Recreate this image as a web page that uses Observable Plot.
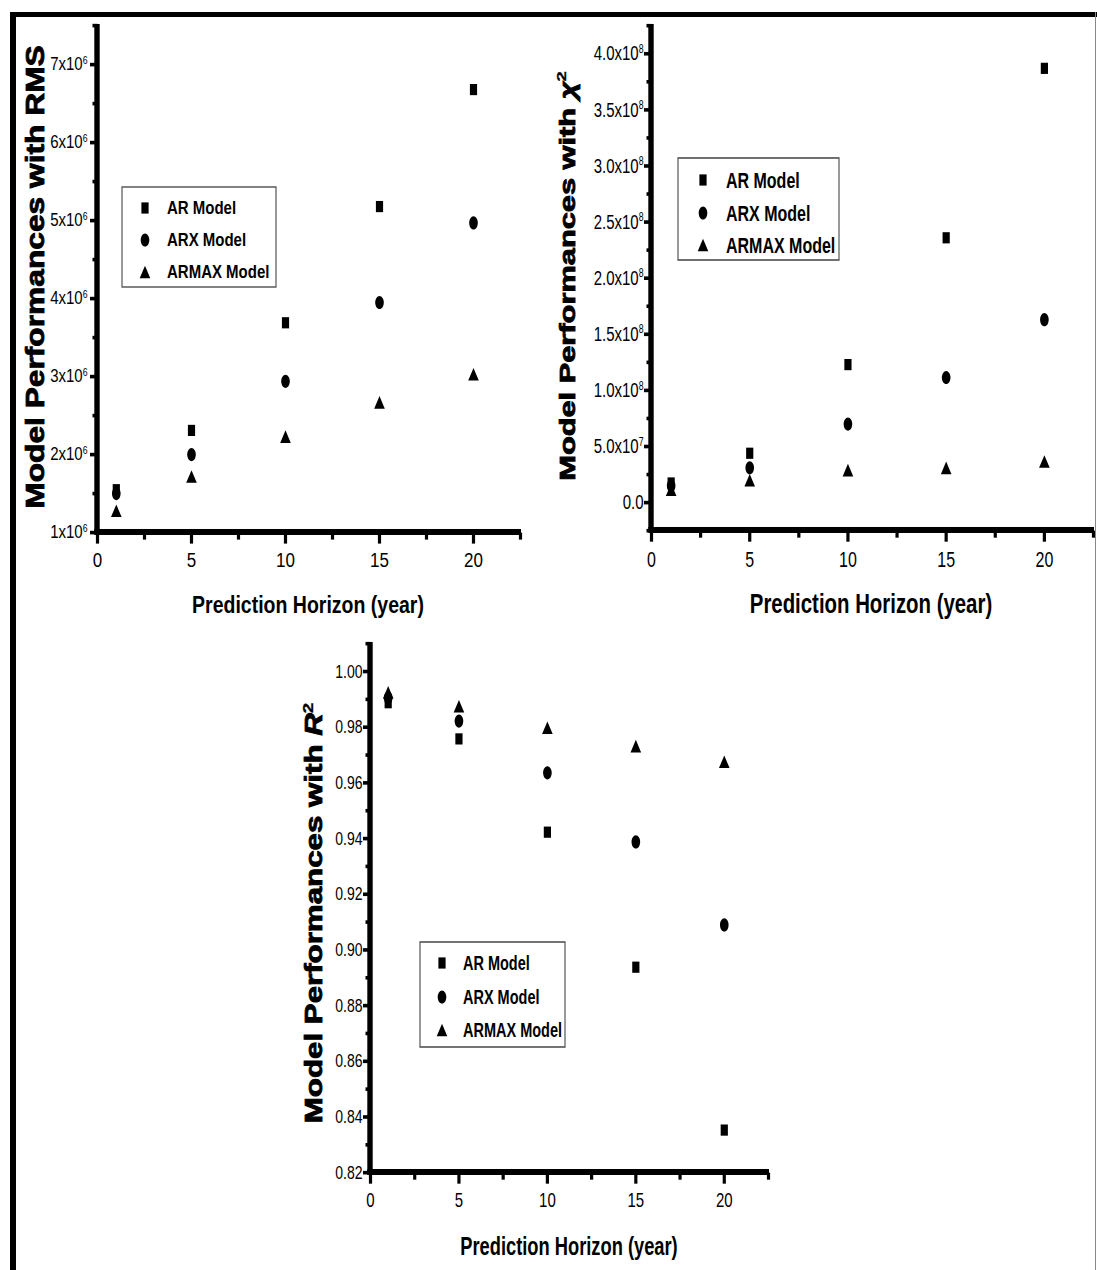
<!DOCTYPE html>
<html>
<head>
<meta charset="utf-8">
<script src="https://cdn.jsdelivr.net/npm/d3@7"></script>
<script src="https://cdn.jsdelivr.net/npm/@observablehq/plot@0.6"></script>
<style>
  html, body { margin: 0; padding: 0; background: #fff; }
  #page { position: relative; width: 1097px; height: 1270px; overflow: hidden; background: #fff; }
  .panel { position: absolute; transform-origin: 0 0; }
  .panel svg { display: block; overflow: visible; max-width: none !important; }
  .edge { position: absolute; }
</style>
</head>
<body>
<div id="page"></div>
<script>
// ---- data ----------------------------------------------------------------
const horizon = [1, 5, 10, 15, 20];
const models = ["AR Model", "ARX Model", "ARMAX Model"];

// RMS
const rmsAR    = [1.55e6, 2.31e6, 3.69e6, 5.18e6, 6.68e6];
const rmsARX   = [1.50e6, 2.00e6, 2.94e6, 3.95e6, 4.97e6];
const rmsARMAX = [1.28e6, 1.72e6, 2.23e6, 2.67e6, 3.03e6];

// chi-square
const chiAR    = [1.75e7, 4.4e7, 1.23e8, 2.36e8, 3.87e8];
const chiARX   = [1.5e7, 3.1e7, 7.0e7, 1.115e8, 1.63e8];
const chiARMAX = [1.15e7, 2.0e7, 2.9e7, 3.1e7, 3.66e7];

// R squared
const r2AR    = [0.9888, 0.9758, 0.9423, 0.8938, 0.8353];
const r2ARX   = [0.9905, 0.9822, 0.9636, 0.9388, 0.9090];
const r2ARMAX = [0.9925, 0.9875, 0.9798, 0.9732, 0.9676];

// ticks
const xTicks = [0, 5, 10, 15, 20];
const xMinorTicks = [2.5, 7.5, 12.5, 17.5, 22.5];

const rmsTicks = [1e6, 2e6, 3e6, 4e6, 5e6, 6e6, 7e6];
const rmsTickLabels = ["1x10^6", "2x10^6", "3x10^6", "4x10^6", "5x10^6", "6x10^6", "7x10^6"];
const rmsMinorTicks = [1.5e6, 2.5e6, 3.5e6, 4.5e6, 5.5e6, 6.5e6, 7.5e6];

const chiTicks = [0, 5e7, 1e8, 1.5e8, 2e8, 2.5e8, 3e8, 3.5e8, 4e8];
const chiTickLabels = ["0.0", "5.0x10^7", "1.0x10^8", "1.5x10^8", "2.0x10^8", "2.5x10^8", "3.0x10^8", "3.5x10^8", "4.0x10^8"];
const chiMinorTicks = [-2.5e7, 2.5e7, 7.5e7, 1.25e8, 1.75e8, 2.25e8, 2.75e8, 3.25e8, 3.75e8, 4.25e8];

const r2Ticks = [0.82, 0.84, 0.86, 0.88, 0.90, 0.92, 0.94, 0.96, 0.98, 1.00];
const r2TickLabels = ["0.82", "0.84", "0.86", "0.88", "0.90", "0.92", "0.94", "0.96", "0.98", "1.00"];
const r2MinorTicks = [0.83, 0.85, 0.87, 0.89, 0.91, 0.93, 0.95, 0.97, 0.99, 1.01];

// ---- marker shapes (on-screen sizes; vertical size divided by panel stretch) ----
function rectPath(ctx, x0, y0, x1, y1) {
  ctx.moveTo(x0, y0); ctx.lineTo(x1, y0); ctx.lineTo(x1, y1); ctx.lineTo(x0, y1); ctx.closePath();
}
function makeSymbols(s) {
  const square = {draw(ctx) { rectPath(ctx, -3.6, -5.6 / s, 3.6, 5.6 / s); }};
  const ellipse = {draw(ctx) {
    const rx = 4.3, ry = 6.6 / s, k = 0.5523;
    ctx.moveTo(rx, 0);
    ctx.bezierCurveTo(rx, ry * k, rx * k, ry, 0, ry);
    ctx.bezierCurveTo(-rx * k, ry, -rx, ry * k, -rx, 0);
    ctx.bezierCurveTo(-rx, -ry * k, -rx * k, -ry, 0, -ry);
    ctx.bezierCurveTo(rx * k, -ry, rx, -ry * k, rx, 0);
    ctx.closePath();
  }};
  const triangle = {draw(ctx) {
    const w = 5.3, h = 6.3 / s;
    ctx.moveTo(0, -h); ctx.lineTo(w, h); ctx.lineTo(-w, h); ctx.closePath();
  }};
  return [square, ellipse, triangle];
}
// solid tick shapes: leftward ticks on the y axis, downward ticks on the x axis
function tickShape(dir, len, thick) {
  return {draw(ctx) {
    if (dir === "left") rectPath(ctx, -len, -thick / 2, 0, thick / 2);
    else rectPath(ctx, -thick / 2, 0, thick / 2, len);
  }};
}

// ---- panel layout (page pixels) ----
const panels = [
  {
    left: 0, top: 0, width: 540, height: 620, stretch: 1.22,
    frame: {x0: 97, x1: 520, y0: 25, y1: 532},
    yDomain: [1e6, 7.5e6], yTicks: rmsTicks, yTickLabels: rmsTickLabels, yMinor: rmsMinorTicks,
    series: [rmsAR, rmsARX, rmsARMAX],
    yFont: 15, xFont: 17, yPad: 10,
    yTitle: [{t: "Model Performances with RMS"}], yTitleSize: 26, yTitleCx: 35, yTitleCy: 277,
    xTitleSize: 19.5, xTitleCx: 308, xTitleBase: 81,
    legend: {x0: 122, y0: 187, x1: 276, y1: 287, rows: [208, 240, 272], mx: 145, tx: 167, font: 15}
  },
  {
    left: 540, top: 0, width: 557, height: 620, stretch: 1.4,
    frame: {x0: 651, x1: 1093, y0: 25, y1: 530},
    yDomain: [-2.5e7, 4.25e8], yTicks: chiTicks, yTickLabels: chiTickLabels, yMinor: chiMinorTicks,
    series: [chiAR, chiARX, chiARMAX],
    yFont: 15, xFont: 16, yPad: 8,
    yTitle: [{t: "Model Performances with "}, {t: "χ", italic: true}, {t: "2", sup: true}],
    yTitleSize: 22, yTitleCx: 567, yTitleCy: 276,
    xTitleSize: 20.4, xTitleCx: 871, xTitleBase: 83,
    legend: {x0: 678, y0: 158, x1: 839, y1: 260, rows: [180, 213, 245], mx: 703, tx: 726, font: 16}
  },
  {
    left: 250, top: 620, width: 560, height: 650, stretch: 1.36,
    frame: {x0: 370, x1: 768, y0: 643, y1: 1172},
    yDomain: [0.82, 1.01], yTicks: r2Ticks, yTickLabels: r2TickLabels, yMinor: r2MinorTicks,
    series: [r2AR, r2ARX, r2ARMAX],
    yFont: 14, xFont: 15, yPad: 8,
    yTitle: [{t: "Model Performances with "}, {t: "R", italic: true}, {t: "2", sup: true}],
    yTitleSize: 23, yTitleCx: 314, yTitleCy: 913,
    xTitleSize: 18.3, xTitleCx: 569, xTitleBase: 83,
    legend: {x0: 420, y0: 942, x1: 565, y1: 1047, rows: [963, 997, 1030], mx: 442, tx: 463, font: 14.5}
  }
];

const FONT = "'Liberation Sans', Arial, Helvetica, sans-serif";
const page = document.getElementById("page");

// superscript notation "a^b" in tick labels
function applySuperscripts(svg) {
  d3.select(svg).selectAll("text").each(function () {
    const txt = this.textContent;
    if (!txt.includes("^")) return;
    const [base, exp] = txt.split("^");
    const el = d3.select(this);
    el.text(base);
    el.append("tspan").attr("font-size", "0.58em").attr("dy", "-0.62em").text(exp);
  });
}

function richText(sel, parts) {
  for (const p of parts) {
    const ts = sel.append("tspan").text(p.t);
    if (p.italic) ts.attr("font-style", "italic");
    if (p.sup) ts.attr("font-size", "0.6em").attr("dy", "-0.7em").attr("stroke-width", 0.3);
  }
}

for (const p of panels) {
  const s = p.stretch;
  const symbols = makeSymbols(s);
  const labelOf = new Map(p.yTicks.map((v, i) => [v, p.yTickLabels[i]]));
  const [yMin, yMax] = p.yDomain;

  const innerH = p.height / s;
  const yTickThick = 3.6 / s, xTickThick = 3.2;
  const yAxisW = 5.4, xAxisH = 6 / s;
  const xTickMajor = 11 / s, xTickMinor = 7 / s;

  const dots = p.series.map((vals, k) =>
    Plot.dot(horizon.map((h, i) => ({horizon: h, value: vals[i], model: models[k]})), {
      x: "horizon", y: "value", symbol: symbols[k], fill: "#000", stroke: "none"
    })
  );

  const plot = Plot.plot({
    width: p.width,
    height: innerH,
    marginLeft: p.frame.x0 - p.left,
    marginRight: p.left + p.width - p.frame.x1,
    marginTop: (p.frame.y0 - p.top) / s,
    marginBottom: (p.top + p.height - p.frame.y1) / s,
    x: {domain: [0, 22.5]},
    y: {domain: p.yDomain},
    style: {fontFamily: FONT, color: "#000", background: "transparent", overflow: "visible"},
    marks: [
      // tick labels
      Plot.axisY({ticks: p.yTicks, tickSize: 0, tickPadding: p.yPad,
        tickFormat: (d) => labelOf.get(d), fontSize: p.yFont, label: null}),
      Plot.axisX({ticks: xTicks, tickSize: 0, tickPadding: 20 / s,
        tickFormat: (d) => String(d), fontSize: p.xFont, label: null}),
      // axis lines (solid bars)
      Plot.rect([0], {x1: 0, x2: 0, y1: yMin, y2: yMax, fill: "#000",
        insetLeft: -yAxisW / 2, insetRight: -yAxisW / 2, insetTop: -1 / s}),
      Plot.rect([0], {x1: 0, x2: 22.5, y1: yMin, y2: yMin, fill: "#000",
        insetTop: -xAxisH / 2, insetBottom: -xAxisH / 2, insetLeft: -yAxisW / 2, insetRight: -1}),
      // major and minor ticks
      Plot.dot(p.yTicks, {x: 0, y: (d) => d, symbol: tickShape("left", 7.5, yTickThick), fill: "#000", stroke: "none"}),
      Plot.dot(p.yMinor, {x: 0, y: (d) => d, symbol: tickShape("left", 5, yTickThick), fill: "#000", stroke: "none"}),
      Plot.dot(xTicks, {x: (d) => d, y: yMin, symbol: tickShape("down", xTickMajor, xTickThick), fill: "#000", stroke: "none"}),
      Plot.dot(xMinorTicks, {x: (d) => d, y: yMin, symbol: tickShape("down", xTickMinor, xTickThick), fill: "#000", stroke: "none"}),
      ...dots
    ]
  });

  applySuperscripts(plot);

  const svg = d3.select(plot);
  const toX = (x) => x - p.left;
  const toY = (y) => (y - p.top) / s;

  // y-axis title (rotated)
  const yt = svg.append("text")
    .attr("transform", `translate(${toX(p.yTitleCx)},${toY(p.yTitleCy)}) rotate(-90)`)
    .attr("text-anchor", "middle")
    .attr("dy", "0.36em")
    .attr("font-family", FONT)
    .attr("font-weight", "bold")
    .attr("font-size", p.yTitleSize)
    .attr("fill", "#000")
    .attr("stroke", "#000")
    .attr("stroke-width", 0.8);
  richText(yt, p.yTitle);

  // x-axis title
  svg.append("text")
    .attr("x", toX(p.xTitleCx))
    .attr("y", toY(p.frame.y1 + p.xTitleBase))
    .attr("text-anchor", "middle")
    .attr("font-family", FONT)
    .attr("font-weight", "bold")
    .attr("font-size", p.xTitleSize)
    .attr("fill", "#000")
    .text("Prediction Horizon (year)");

  // legend box
  const L = p.legend;
  const lg = svg.append("g").attr("class", "legend").attr("text-anchor", "start");
  lg.append("rect")
    .attr("x", toX(L.x0)).attr("y", toY(L.y0))
    .attr("width", L.x1 - L.x0).attr("height", (L.y1 - L.y0) / s)
    .attr("fill", "#fff").attr("stroke", "#555").attr("stroke-width", 1.2);
  models.forEach((m, k) => {
    const cy = toY(L.rows[k]);
    lg.append("path")
      .attr("transform", `translate(${toX(L.mx)},${cy})`)
      .attr("d", d3.symbol(symbols[k])())
      .attr("fill", "#000");
    lg.append("text")
      .attr("x", toX(L.tx)).attr("y", cy)
      .attr("dy", "0.35em")
      .attr("text-anchor", "start")
      .attr("font-family", FONT).attr("font-weight", "bold")
      .attr("font-size", L.font).attr("fill", "#000")
      .text(m);
  });

  const wrap = document.createElement("div");
  wrap.className = "panel";
  wrap.style.left = p.left + "px";
  wrap.style.top = p.top + "px";
  wrap.style.width = p.width + "px";
  wrap.style.height = innerH + "px";
  wrap.style.transform = `scale(1, ${s})`;
  wrap.appendChild(plot);
  page.appendChild(wrap);
}

// figure border
function edge(left, top, width, height, color) {
  const d = document.createElement("div");
  d.className = "edge";
  Object.assign(d.style, {left: left + "px", top: top + "px", width: width + "px", height: height + "px", background: color});
  page.appendChild(d);
}
edge(10, 12, 1087, 5, "#000");
edge(10, 12, 6, 1258, "#000");
edge(1095, 12, 1, 1258, "#888");
</script>
</body>
</html>
